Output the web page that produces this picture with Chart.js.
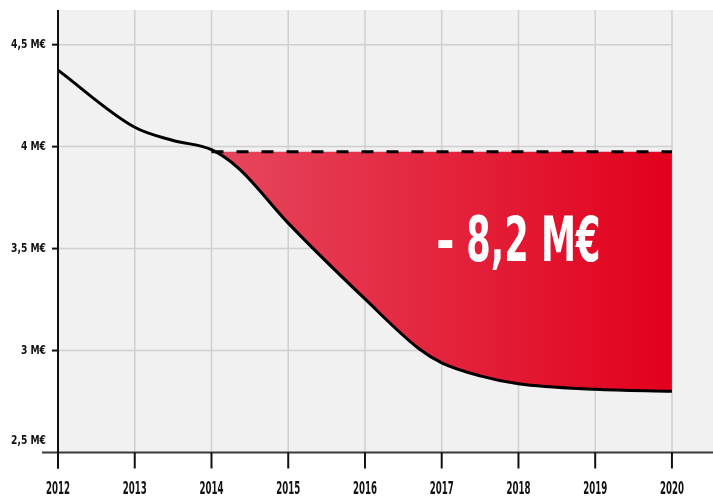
<!DOCTYPE html>
<html>
<head>
<meta charset="utf-8">
<script src="https://cdn.jsdelivr.net/npm/chart.js@4.4.1/dist/chart.umd.min.js"></script>
<style>
html,body{margin:0;padding:0;background:#fff;}
#wrap{width:713px;height:497px;}
</style>
</head>
<body>
<div id="wrap"><canvas id="c" width="713" height="497"></canvas></div>
<script>
// ---- data ----
const years = [2012, 2013, 2013.5, 2014, 2014.35, 2015, 2016, 2016.7, 2017, 2017.5, 2018, 2019, 2020];
const budget = [4.375, 4.095, 4.03, 3.985, 3.895, 3.625, 3.253, 3.01, 2.94, 2.876, 2.837, 2.81, 2.80];
const refYears = [2014, 2020];
const refValue = [3.975, 3.975];
const xTickYears = [2012, 2013, 2014, 2015, 2016, 2017, 2018, 2019, 2020];
const yTickValues = [2.5, 3, 3.5, 4, 4.5];
const yTickLabels = ['2,5 M€', '3 M€', '3,5 M€', '4 M€', '4,5 M€'];
const gapLabel = '– 8,2 M€';

const FONT = "'DejaVu Sans','Liberation Sans',sans-serif";

function fillGradient(ctx) {
  const chart = ctx.chart;
  const area = chart.chartArea;
  if (!area) return 'rgba(0,0,0,0)';
  const xs = chart.scales.x;
  const x0 = xs.getPixelForValue(refYears[0]);
  const x1 = xs.getPixelForValue(refYears[1]);
  const g = chart.ctx.createLinearGradient(area.left, 0, x1, 0);
  const t = (x0 - area.left) / (x1 - area.left);
  g.addColorStop(0, 'rgba(229,68,90,0)');
  g.addColorStop(Math.max(0, t - 0.0005), 'rgba(229,68,90,0)');
  g.addColorStop(t, 'rgb(229,72,94)');
  g.addColorStop(1, 'rgb(226,0,28)');
  return g;
}

// draw text horizontally condensed
function condText(ctx, text, x, y, px, sx, align) {
  ctx.save();
  ctx.font = 'bold ' + px + 'px ' + FONT;
  ctx.textBaseline = 'middle';
  ctx.textAlign = 'left';
  const w = ctx.measureText(text).width * sx;
  let left = x;
  if (align === 'center') left = x - w / 2;
  else if (align === 'right') left = x - w;
  ctx.translate(left, y);
  ctx.scale(sx, 1);
  ctx.fillText(text, 0, 0);
  ctx.restore();
}

function ratio(ctx, sample, px, target) {
  ctx.save();
  ctx.font = 'bold ' + px + 'px ' + FONT;
  const w = ctx.measureText(sample).width;
  ctx.restore();
  return target / w;
}

const decor = {
  id: 'decor',
  beforeDatasetsDraw(chart) {
    const {ctx, chartArea: a, scales: {x, y}} = chart;
    ctx.save();
    ctx.fillStyle = '#f0f1f0';
    ctx.fillRect(a.left, a.top, a.right - a.left, a.bottom - a.top);
    ctx.strokeStyle = '#cfd0cf';
    ctx.lineWidth = 1.5;
    const xr = x.getPixelForValue(xTickYears[xTickYears.length - 1]);
    yTickValues.forEach(v => {
      if (v === yTickValues[0]) return;
      const py = y.getPixelForValue(v);
      ctx.beginPath(); ctx.moveTo(a.left, py); ctx.lineTo(xr, py); ctx.stroke();
    });
    xTickYears.forEach(v => {
      const px = x.getPixelForValue(v);
      ctx.beginPath(); ctx.moveTo(px, a.top); ctx.lineTo(px, a.bottom); ctx.stroke();
    });
    ctx.restore();
  },
  afterDatasetsDraw(chart) {
    const {ctx, chartArea: a, scales: {x, y}} = chart;
    ctx.save();
    ctx.strokeStyle = '#3a3a3a';
    ctx.lineWidth = 2;
    ctx.beginPath(); ctx.moveTo(42, a.bottom); ctx.lineTo(a.right, a.bottom); ctx.stroke();
    ctx.strokeStyle = '#111';
    ctx.beginPath(); ctx.moveTo(a.left, a.top); ctx.lineTo(a.left, a.bottom + 16); ctx.stroke();
    ctx.fillStyle = '#111';
    const sxX = ratio(ctx, '2017', 17.5, 24);
    xTickYears.forEach(v => {
      const px = x.getPixelForValue(v);
      ctx.beginPath(); ctx.moveTo(px, a.bottom); ctx.lineTo(px, a.bottom + 16); ctx.stroke();
      condText(ctx, String(v), px, a.bottom + 36.5, 17.5, sxX, 'center');
    });
    const sxY = ratio(ctx, '4,5 M€', 12.5, 35);
    yTickValues.forEach((v, i) => {
      const py = y.getPixelForValue(v);
      if (i === 0) {
        condText(ctx, yTickLabels[i], a.left - 12, py - 12, 12.5, sxY, 'right');
      } else {
        ctx.beginPath(); ctx.moveTo(a.left - 6, py); ctx.lineTo(a.left, py); ctx.stroke();
        condText(ctx, yTickLabels[i], a.left - 12, py, 12.5, sxY, 'right');
      }
    });
    ctx.fillStyle = '#ffffff';
    const sxB = ratio(ctx, gapLabel, 62, 164);
    condText(ctx, gapLabel, x.getPixelForValue(2018.0), y.getPixelForValue(3.52), 62, sxB, 'center');
    ctx.restore();
  }
};

new Chart(document.getElementById('c'), {
  type: 'line',
  data: {
    datasets: [
      {
        data: refYears.map((v, i) => ({x: v, y: refValue[i]})),
        borderColor: '#000',
        borderWidth: 3,
        borderDash: [12, 13],
        pointRadius: 0,
        fill: false,
        order: 0
      },
      {
        data: years.map((v, i) => ({x: v, y: budget[i]})),
        borderColor: '#000',
        borderWidth: 3,
        pointRadius: 0,
        cubicInterpolationMode: 'monotone',
        fill: {value: refValue[0]},
        backgroundColor: fillGradient,
        order: 1
      }
    ]
  },
  options: {
    responsive: false,
    animation: false,
    layout: {padding: {top: 10, right: 0, left: 0, bottom: 0}},
    plugins: {legend: {display: false}, tooltip: {enabled: false}},
    scales: {
      x: {
        type: 'linear', min: 2012, max: 2020.535,
        grid: {display: false}, border: {display: false},
        ticks: {display: false},
        afterFit(s) { s.height = 44.5; }
      },
      y: {
        min: 2.5, max: 4.67,
        grid: {display: false}, border: {display: false},
        ticks: {display: false},
        afterFit(s) { s.width = 58; }
      }
    }
  },
  plugins: [decor]
});
</script>
</body>
</html>
